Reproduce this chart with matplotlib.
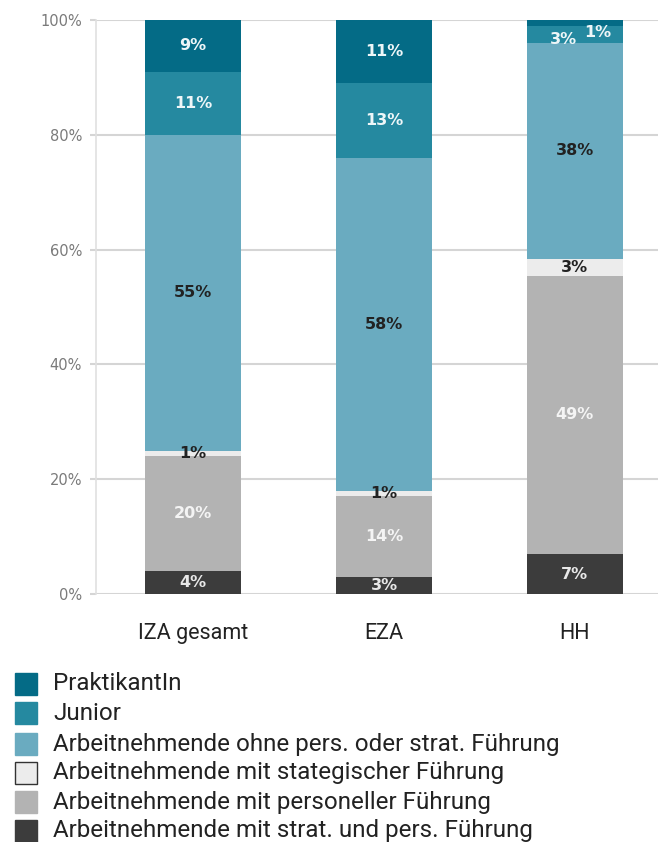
import numpy as np
import matplotlib
matplotlib.use('Agg')
import matplotlib.pyplot as plt
from matplotlib.patches import Rectangle

# data (percent, as labelled in the chart)
categories = ['IZA gesamt', 'EZA', 'HH']
series_names = ['Arbeitnehmende mit strat. und pers. Führung',
                'Arbeitnehmende mit personeller Führung',
                'Arbeitnehmende mit stategischer Führung',
                'Arbeitnehmende ohne pers. oder strat. Führung',
                'Junior',
                'PraktikantIn']
strat_pers = [4, 3, 7]
personell = [20, 14, 49]
strategisch = [1, 1, 3]
ohne = [55, 58, 38]
junior = [11, 13, 3]
praktikant = [9, 11, 1]
series = [strat_pers, personell, strategisch, ohne, junior, praktikant]

colors = ['#3c3c3c', '#b3b3b3', '#ececec', '#6aabc0', '#2589a0', '#046b86']
label_colors = ['#e8e8e8', '#f4f4f4', '#222222', '#222222', '#eef6f8', '#eef6f8']

vals = np.array(series, dtype=float)
vals = vals / vals.sum(axis=0) * 100  # HH sums to 101

fig = plt.figure(figsize=(6.58, 8.42), dpi=100)
ax = fig.add_axes([96/658, 1-594/842, 1-96/658, 574/842])

x = np.arange(len(categories))
bottom = np.zeros(len(categories))
for i in range(len(series)):
    ax.bar(x, vals[i], 0.503, bottom=bottom, color=colors[i], zorder=3)
    for j in range(len(categories)):
        cy = bottom[j] + vals[i][j] / 2
        cx = x[j]
        if categories[j] == 'HH' and i >= 4:
            # the two tiny top segments in HH
            cx = x[j] - 0.06 if i == 4 else x[j] + 0.12
            cy = 96.6 if i == 4 else 97.9
        ax.text(cx, cy, f'{series[i][j]}%', ha='center', va='center',
                fontsize=11.5, fontweight='bold', color=label_colors[i], zorder=4)
    bottom += vals[i]

ax.set_ylim(0, 100)
ax.set_xlim(-0.508, 2.435)
ax.set_yticks(np.arange(0, 101, 20))
ax.set_yticklabels([f'{v}%' for v in range(0, 101, 20)])
ax.set_xticks(x)
ax.set_xticklabels(categories, fontsize=15.5, color='#222222', family='Roboto')
ax.tick_params(axis='y', length=4, color='#d5d5d5', width=1.5, labelsize=10.5,
               labelcolor='#7a7a7a', pad=6)
ax.tick_params(axis='x', length=0, pad=21)
ax.grid(axis='y', color='#d5d5d5', lw=1.5, zorder=0)
for s in ['top', 'right', 'bottom']:
    ax.spines[s].set_visible(False)
ax.spines['left'].set_color('#e0e0e0')
ax.spines['left'].set_linewidth(1.2)

# legend, top entry first
leg_y = [684, 713, 744, 773, 802, 831]
for k, i in enumerate(range(len(series) - 1, -1, -1)):
    yc = 1 - leg_y[k] / 842
    fig.add_artist(Rectangle((15/658, yc - 11/842), 22/658, 22/842,
                             transform=fig.transFigure, facecolor=colors[i],
                             edgecolor='#333333' if i == 2 else colors[i], lw=1))
    fig.text(53/658, yc, series_names[i], fontsize=17.4, family='Roboto',
             color='#222222', va='center', ha='left')

fig.savefig('out.png', dpi=100)
